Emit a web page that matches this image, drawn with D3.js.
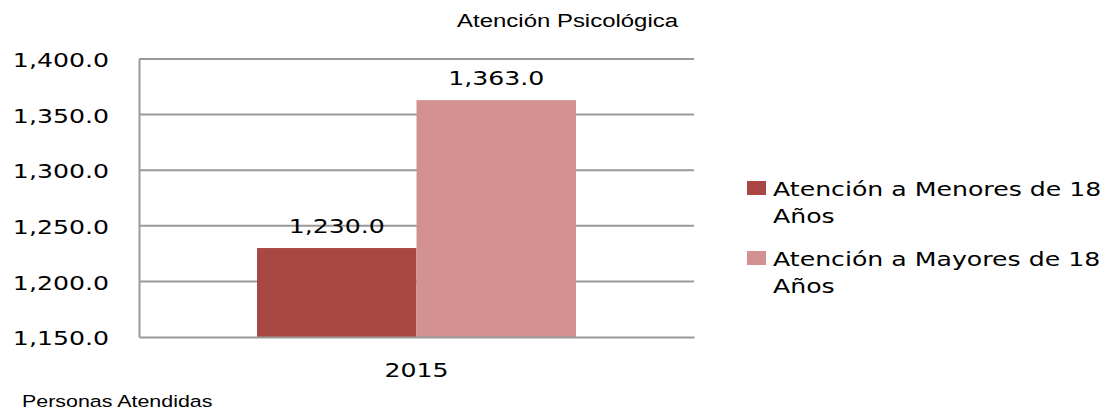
<!DOCTYPE html>
<html>
<head>
<meta charset="utf-8">
<script src="https://d3js.org/d3.v7.min.js"></script>
<style>
  body { margin: 0; background: #fff; }
  text { fill: #000; }
  .lbl { font-family: "DejaVu Sans", sans-serif; font-size: 20px; }
  .ttl { font-family: "Liberation Sans", Arial, sans-serif; }
</style>
</head>
<body>
<script>
// chart data
var years = ["2015"];
var seriesNames = ["Atención a Menores de 18 Años", "Atención a Mayores de 18 Años"];
var seriesValues = [[1230], [1363]];
var yTicks = [1150, 1200, 1250, 1300, 1350, 1400];
var colors = ["#A94745", "#D39191"];

function draw() {
  var W = 1112, H = 410;
  var sx = 1.26; // the original picture is stretched sideways
  var mLeft = 139, mRight = 694, mTop = 59, mBottom = 337;

  var svg = d3.select("body").append("svg")
    .attr("width", W).attr("height", H);

  var x0 = d3.scaleBand().domain(years).range([mLeft, mRight]).paddingInner(0).paddingOuter(0.37);
  var x1 = d3.scaleBand().domain(d3.range(seriesNames.length)).range([0, x0.bandwidth()]);
  var y = d3.scaleLinear().domain([1150, 1400]).range([mBottom, mTop]);
  var fmt = d3.format(",.1f");

  // gridlines
  svg.append("g").selectAll("line")
    .data(yTicks.slice(1))
    .enter().append("line")
    .attr("x1", mLeft).attr("x2", mRight)
    .attr("y1", function(d) { return y(d); })
    .attr("y2", function(d) { return y(d); })
    .attr("stroke", "#999").attr("stroke-width", 2);

  // bars
  years.forEach(function(yr, yi) {
    var g = svg.append("g").attr("transform", "translate(" + x0(yr) + ",0)");
    seriesValues.forEach(function(vals, si) {
      g.append("rect")
        .attr("x", x1(si)).attr("width", x1.bandwidth())
        .attr("y", y(vals[yi])).attr("height", mBottom - y(vals[yi]))
        .attr("fill", colors[si]);
      g.append("text").attr("class", "lbl")
        .attr("transform", "translate(" + (x1(si) + x1.bandwidth() / 2) + "," + (y(vals[yi]) - 15) + ") scale(" + sx + ",1)")
        .attr("text-anchor", "middle")
        .text(fmt(vals[yi]));
    });
  });

  // y axis
  var yAxis = svg.append("g").attr("transform", "translate(" + mLeft + ",0)")
    .call(d3.axisLeft(y).tickValues(yTicks).tickSize(0).tickFormat(fmt));
  yAxis.select(".domain").attr("stroke", "#999").attr("stroke-width", 2);
  yAxis.selectAll("text").attr("class", "lbl")
    .attr("x", -30 / sx).attr("dy", "0.38em")
    .attr("transform", "scale(" + sx + ",1)");

  // x axis
  var xAxis = svg.append("g").attr("transform", "translate(0," + mBottom + ")")
    .call(d3.axisBottom(x0).tickSize(0));
  xAxis.select(".domain").attr("stroke", "#999").attr("stroke-width", 2);
  xAxis.selectAll("text").attr("class", "lbl")
    .attr("y", 0).attr("dy", 0)
    .attr("transform", "translate(0,40) scale(" + sx + ",1)");

  // titles
  svg.append("text").attr("class", "ttl")
    .attr("transform", "translate(678,27) scale(" + sx + ",1)")
    .attr("text-anchor", "end").style("font-size", "19px")
    .text("Atención Psicológica");
  svg.append("text").attr("class", "ttl")
    .attr("transform", "translate(22,407) scale(" + sx + ",1)")
    .style("font-size", "17px")
    .text("Personas Atendidas");

  // legend
  var legend = svg.append("g").selectAll("g")
    .data(seriesNames)
    .enter().append("g")
    .attr("transform", function(d, i) { return "translate(747," + (181 + i * 70) + ")"; });
  legend.append("rect")
    .attr("width", 19).attr("height", 14)
    .attr("fill", function(d, i) { return colors[i]; });
  legend.append("text").attr("class", "lbl")
    .attr("transform", "translate(26,15) scale(" + sx + ",1)")
    .selectAll("tspan")
    .data(function(d) { var k = d.lastIndexOf(" "); return [d.slice(0, k), d.slice(k + 1)]; })
    .enter().append("tspan")
    .attr("x", 0).attr("dy", function(d, i) { return i ? 27 : 0; })
    .text(function(d) { return d; });
}
draw();
</script>
</body>
</html>
